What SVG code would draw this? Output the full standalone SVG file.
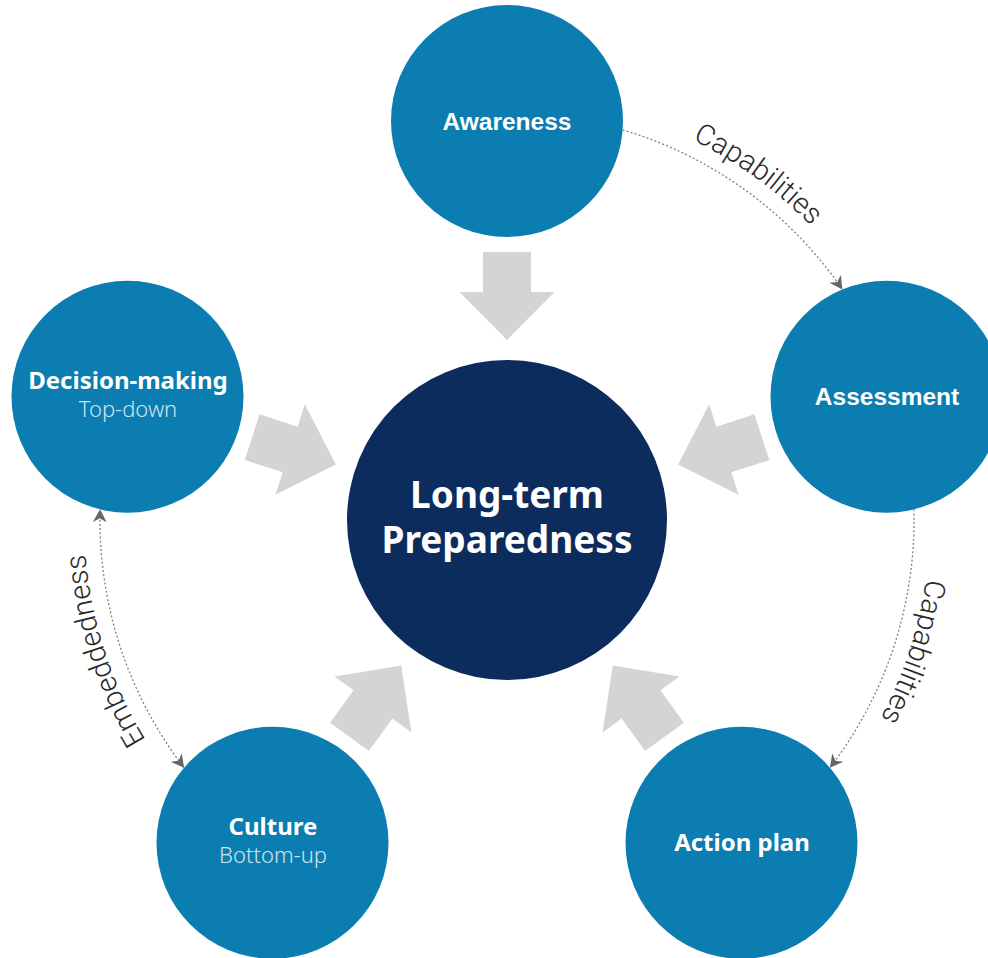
<svg xmlns="http://www.w3.org/2000/svg" width="988" height="958" viewBox="0 0 988 958">
  <style>
    .node { fill: #0b7db1; }
    .core { fill: #0b2c5c; }
    .big { fill: #ffffff; font-family: "Noto Sans", "Open Sans", sans-serif; font-weight: 700; text-anchor: middle; }
    .hel { fill: #ffffff; font-family: "Liberation Sans", Arial, sans-serif; font-weight: 700; font-size: 24.5px; text-anchor: middle; }
    .sub { fill: #cfe3ef; font-family: "Noto Sans", "Open Sans", sans-serif; font-weight: 300; font-size: 22px; text-anchor: middle; }
    .conn { fill: none; stroke: #808080; stroke-width: 1.3; stroke-dasharray: 2 2.2; }
    .lbl { fill: #2a2a2a; font-family: Roboto, "Liberation Sans", sans-serif; font-weight: 300; font-size: 29px; text-anchor: middle; }
    .flow { fill: #d3d4d6; }
  </style>
  <defs>
    <path id="bigArrow" d="M180,0 L228,-47.5 L228,-24 L268,-24 L268,24 L228,24 L228,47.5 Z"/>
    <marker id="head" markerUnits="userSpaceOnUse" markerWidth="16" markerHeight="16" refX="13" refY="7" orient="auto-start-reverse" viewBox="0 0 16 16">
      <path d="M0,0 L13,7 L0,14 L4,7 Z" fill="#666666"/>
    </marker>
    <path id="t1" d="M477.5,98 A423,423 0 0 1 917.4,417.7"/>
    <path id="t2" d="M899.2,361.5 A423,423 0 0 1 731.2,878.7"/>
    <path id="t3" d="M282.8,878.7 A423,423 0 0 1 114.8,361.5"/>
  </defs>

  <g id="flows">
    <use href="#bigArrow" class="flow" transform="translate(507,520) rotate(-90)"/>
    <use href="#bigArrow" class="flow" transform="translate(507,520) rotate(-18)"/>
    <use href="#bigArrow" class="flow" transform="translate(507,520) rotate(54)"/>
    <use href="#bigArrow" class="flow" transform="translate(507,520) rotate(126)"/>
    <use href="#bigArrow" class="flow" transform="translate(507,520) rotate(198)"/>
  </g>

  <g id="core">
    <circle class="core" cx="507" cy="520" r="160"/>
    <text class="big" x="507" y="508" font-size="37">Long-term</text>
    <text class="big" x="507" y="553" font-size="37">Preparedness</text>
  </g>

  <g id="awareness">
    <circle class="node" cx="507" cy="121" r="116"/>
    <text class="hel" x="507" y="130">Awareness</text>
  </g>

  <g id="assessment">
    <circle class="node" cx="886.5" cy="396.7" r="116"/>
    <text class="hel" x="887" y="405">Assessment</text>
  </g>

  <g id="action-plan">
    <circle class="node" cx="741.5" cy="842.8" r="116"/>
    <text class="big" x="742" y="851" font-size="24">Action plan</text>
  </g>

  <g id="culture">
    <circle class="node" cx="272.5" cy="842.8" r="116"/>
    <text class="big" x="273" y="835" font-size="24">Culture</text>
    <text class="sub" x="273" y="863">Bottom-up</text>
  </g>

  <g id="decision-making">
    <circle class="node" cx="127.5" cy="396.7" r="116"/>
    <text class="big" x="128" y="389" font-size="24">Decision-making</text>
    <text class="sub" x="128" y="417">Top-down</text>
  </g>

  <g id="connectors">
    <path class="conn" d="M622.6,129.8 A407,407 0 0 1 842.4,289.5" marker-end="url(#head)"/>
    <path class="conn" d="M913.9,509.3 A407,407 0 0 1 829.9,767.8" marker-end="url(#head)"/>
    <path class="conn" d="M184.1,767.8 A407,407 0 0 1 100.1,509.3" marker-start="url(#head)" marker-end="url(#head)"/>
    <text class="lbl"><textPath href="#t1" startOffset="50%">Capabilities</textPath></text>
    <text class="lbl"><textPath href="#t2" startOffset="50%">Capabilities</textPath></text>
    <text class="lbl"><textPath href="#t3" startOffset="50%">Embeddedness</textPath></text>
  </g>
</svg>
